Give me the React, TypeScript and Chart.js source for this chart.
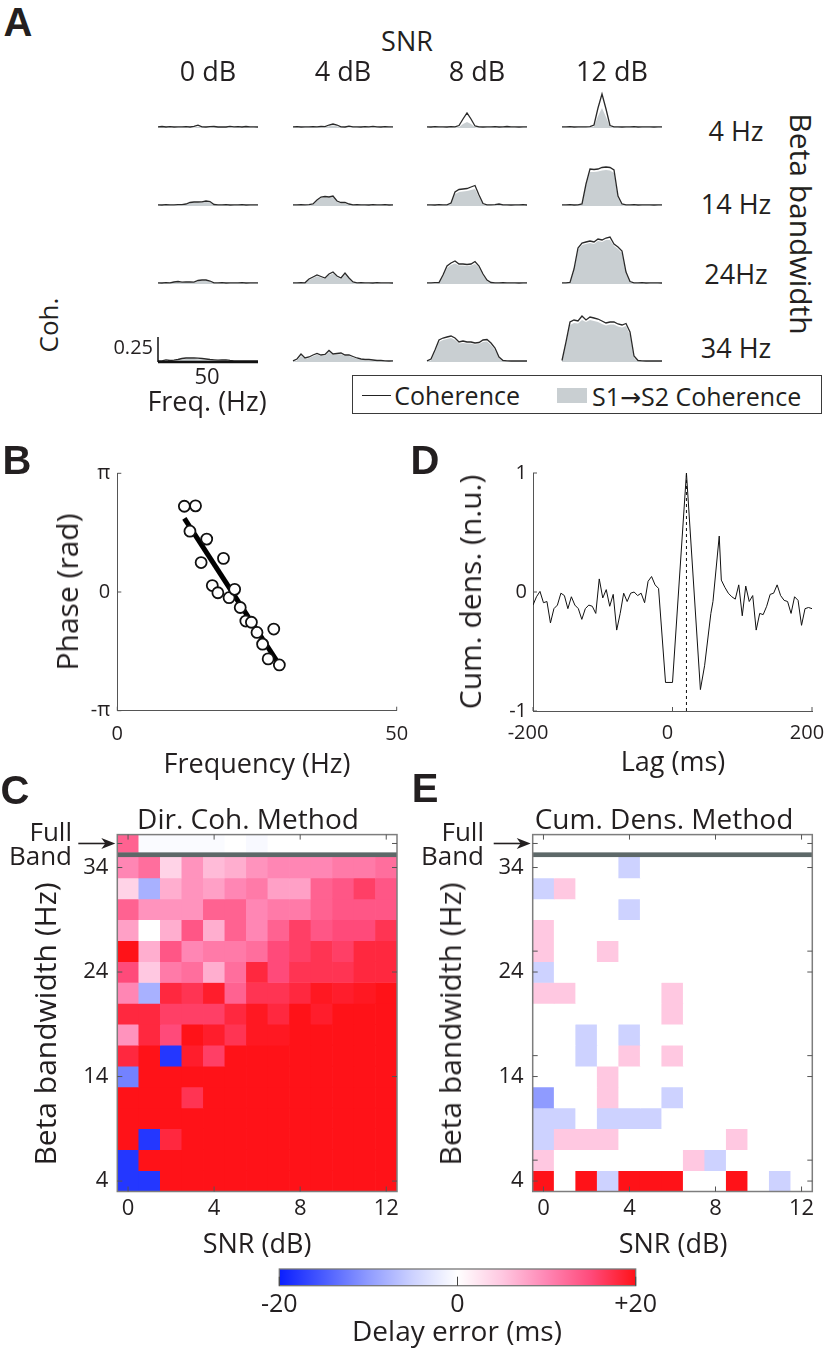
import React, { useEffect, useRef } from 'react';
import { Chart, registerables } from 'chart.js';

Chart.register(...registerables);

const FONT = "'Open Sans', 'Noto Sans', 'DejaVu Sans', sans-serif";
const BOLD_FONT = "'Liberation Sans', Arial, sans-serif";
const INK = '#231f20';
Chart.defaults.font.family = FONT;
Chart.defaults.color = INK;

// ================= DATA =================
// ---- Panel A: coherence spectra (x = frequency, Hz) ----
const FREQ_HZ = [0, 2, 4, 6, 8, 10, 12, 14, 16, 18, 20, 22, 24, 26, 28, 30, 32, 34, 36, 38, 40, 42, 44, 46, 48, 50];
const SNR_COLUMNS = ['0 dB', '4 dB', '8 dB', '12 dB'];
const BANDWIDTH_ROWS = ['4 Hz', '14 Hz', '24Hz', '34 Hz'];

// coherence (line) per SNR column: 0, 4, 8, 12 dB
const COH_4HZ = [
  [0.012, 0.015, 0.010, 0.013, 0.010, 0.012, 0.011, 0.014, 0.010, 0.016, 0.028, 0.012, 0.010, 0.013, 0.015, 0.010, 0.012, 0.010, 0.016, 0.011, 0.013, 0.010, 0.015, 0.011, 0.012, 0.010],
  [0.012, 0.014, 0.010, 0.012, 0.011, 0.013, 0.012, 0.015, 0.013, 0.030, 0.040, 0.030, 0.012, 0.010, 0.018, 0.011, 0.012, 0.010, 0.014, 0.011, 0.016, 0.012, 0.010, 0.014, 0.011, 0.012],
  [0.012, 0.010, 0.013, 0.011, 0.012, 0.010, 0.013, 0.012, 0.025, 0.090, 0.150, 0.090, 0.020, 0.012, 0.010, 0.012, 0.011, 0.013, 0.010, 0.012, 0.015, 0.011, 0.012, 0.010, 0.012, 0.011],
  [0.012, 0.011, 0.013, 0.010, 0.012, 0.011, 0.012, 0.013, 0.030, 0.200, 0.340, 0.190, 0.025, 0.012, 0.011, 0.010, 0.012, 0.011, 0.013, 0.010, 0.012, 0.011, 0.012, 0.010, 0.011, 0.012],
];
// directed S1->S2 coherence (grey area)
const DIR_4HZ = [
  [0.004, 0.005, 0.004, 0.004, 0.004, 0.004, 0.004, 0.005, 0.004, 0.006, 0.012, 0.005, 0.004, 0.004, 0.005, 0.004, 0.004, 0.004, 0.005, 0.004, 0.004, 0.004, 0.005, 0.004, 0.004, 0.004],
  [0.004, 0.005, 0.004, 0.004, 0.004, 0.005, 0.004, 0.005, 0.005, 0.018, 0.026, 0.018, 0.004, 0.004, 0.006, 0.004, 0.004, 0.004, 0.005, 0.004, 0.005, 0.004, 0.004, 0.005, 0.004, 0.004],
  [0.004, 0.004, 0.005, 0.004, 0.004, 0.004, 0.005, 0.004, 0.010, 0.040, 0.060, 0.040, 0.008, 0.004, 0.004, 0.004, 0.004, 0.005, 0.004, 0.004, 0.005, 0.004, 0.004, 0.004, 0.004, 0.004],
  [0.004, 0.004, 0.005, 0.004, 0.004, 0.004, 0.004, 0.005, 0.015, 0.120, 0.200, 0.110, 0.010, 0.004, 0.004, 0.004, 0.004, 0.004, 0.005, 0.004, 0.004, 0.004, 0.004, 0.004, 0.004, 0.004],
];
const COH_14HZ = [
  [0.012, 0.010, 0.013, 0.011, 0.012, 0.014, 0.013, 0.020, 0.035, 0.040, 0.040, 0.042, 0.050, 0.045, 0.015, 0.012, 0.011, 0.013, 0.010, 0.012, 0.011, 0.013, 0.010, 0.012, 0.011, 0.012],
  [0.012, 0.011, 0.013, 0.012, 0.014, 0.020, 0.060, 0.090, 0.095, 0.090, 0.100, 0.050, 0.035, 0.035, 0.020, 0.012, 0.013, 0.011, 0.012, 0.010, 0.013, 0.012, 0.011, 0.013, 0.010, 0.012],
  [0.012, 0.011, 0.010, 0.013, 0.012, 0.011, 0.030, 0.140, 0.165, 0.170, 0.175, 0.190, 0.205, 0.110, 0.025, 0.012, 0.011, 0.013, 0.020, 0.012, 0.011, 0.010, 0.012, 0.011, 0.013, 0.010],
  [0.012, 0.011, 0.013, 0.010, 0.012, 0.020, 0.220, 0.370, 0.365, 0.370, 0.385, 0.390, 0.385, 0.360, 0.100, 0.020, 0.012, 0.011, 0.013, 0.010, 0.012, 0.011, 0.012, 0.010, 0.011, 0.012],
];
const DIR_14HZ = [
  [0.004, 0.004, 0.005, 0.004, 0.004, 0.005, 0.005, 0.012, 0.028, 0.032, 0.033, 0.035, 0.040, 0.036, 0.008, 0.004, 0.004, 0.005, 0.004, 0.004, 0.004, 0.005, 0.004, 0.004, 0.004, 0.004],
  [0.004, 0.004, 0.005, 0.004, 0.005, 0.012, 0.050, 0.080, 0.085, 0.082, 0.090, 0.040, 0.025, 0.025, 0.010, 0.004, 0.005, 0.004, 0.004, 0.004, 0.005, 0.004, 0.004, 0.005, 0.004, 0.004],
  [0.004, 0.004, 0.004, 0.005, 0.004, 0.004, 0.020, 0.120, 0.140, 0.145, 0.150, 0.160, 0.170, 0.090, 0.015, 0.004, 0.004, 0.005, 0.008, 0.004, 0.004, 0.004, 0.004, 0.004, 0.005, 0.004],
  [0.004, 0.004, 0.005, 0.004, 0.004, 0.012, 0.200, 0.340, 0.340, 0.345, 0.355, 0.360, 0.355, 0.330, 0.080, 0.010, 0.004, 0.004, 0.005, 0.004, 0.004, 0.004, 0.004, 0.004, 0.004, 0.004],
];
const COH_24HZ = [
  [0.012, 0.010, 0.013, 0.012, 0.020, 0.025, 0.018, 0.020, 0.022, 0.018, 0.035, 0.040, 0.040, 0.030, 0.012, 0.011, 0.013, 0.010, 0.012, 0.011, 0.012, 0.013, 0.010, 0.012, 0.011, 0.012],
  [0.012, 0.011, 0.013, 0.012, 0.050, 0.070, 0.090, 0.075, 0.060, 0.100, 0.120, 0.080, 0.060, 0.110, 0.060, 0.020, 0.012, 0.013, 0.011, 0.012, 0.010, 0.013, 0.012, 0.011, 0.012, 0.010],
  [0.012, 0.011, 0.013, 0.015, 0.090, 0.180, 0.210, 0.230, 0.200, 0.200, 0.195, 0.200, 0.225, 0.180, 0.100, 0.040, 0.015, 0.012, 0.011, 0.013, 0.012, 0.012, 0.011, 0.010, 0.012, 0.011],
  [0.012, 0.011, 0.015, 0.150, 0.360, 0.410, 0.420, 0.430, 0.420, 0.450, 0.440, 0.460, 0.470, 0.400, 0.370, 0.330, 0.120, 0.025, 0.012, 0.011, 0.013, 0.010, 0.012, 0.011, 0.012, 0.010],
];
const DIR_24HZ = [
  [0.004, 0.004, 0.005, 0.006, 0.014, 0.018, 0.012, 0.014, 0.016, 0.012, 0.028, 0.032, 0.032, 0.022, 0.006, 0.004, 0.005, 0.004, 0.004, 0.004, 0.004, 0.005, 0.004, 0.004, 0.004, 0.004],
  [0.004, 0.004, 0.005, 0.006, 0.040, 0.060, 0.078, 0.065, 0.050, 0.088, 0.105, 0.070, 0.050, 0.095, 0.050, 0.012, 0.005, 0.005, 0.004, 0.004, 0.004, 0.005, 0.004, 0.004, 0.004, 0.004],
  [0.004, 0.004, 0.005, 0.008, 0.075, 0.160, 0.190, 0.205, 0.185, 0.185, 0.180, 0.185, 0.200, 0.165, 0.085, 0.030, 0.008, 0.004, 0.004, 0.005, 0.004, 0.004, 0.004, 0.004, 0.004, 0.004],
  [0.004, 0.004, 0.008, 0.130, 0.340, 0.390, 0.400, 0.410, 0.400, 0.430, 0.420, 0.440, 0.440, 0.380, 0.350, 0.310, 0.100, 0.015, 0.005, 0.004, 0.005, 0.004, 0.004, 0.004, 0.004, 0.004],
];
const COH_34HZ = [
  [0.010, 0.012, 0.022, 0.015, 0.018, 0.025, 0.035, 0.040, 0.042, 0.040, 0.038, 0.035, 0.030, 0.025, 0.022, 0.018, 0.020, 0.022, 0.016, 0.012, 0.010, 0.012, 0.010, 0.011, 0.010, 0.012],
  [0.012, 0.030, 0.080, 0.040, 0.050, 0.070, 0.085, 0.070, 0.075, 0.115, 0.080, 0.085, 0.090, 0.070, 0.070, 0.055, 0.040, 0.030, 0.025, 0.025, 0.020, 0.015, 0.015, 0.012, 0.010, 0.012],
  [0.012, 0.030, 0.120, 0.220, 0.240, 0.250, 0.260, 0.240, 0.200, 0.210, 0.200, 0.200, 0.190, 0.195, 0.220, 0.225, 0.190, 0.140, 0.050, 0.015, 0.012, 0.010, 0.012, 0.010, 0.011, 0.010],
  [0.015, 0.200, 0.400, 0.420, 0.410, 0.460, 0.420, 0.450, 0.440, 0.430, 0.410, 0.390, 0.400, 0.400, 0.380, 0.370, 0.385, 0.300, 0.060, 0.015, 0.012, 0.010, 0.012, 0.010, 0.012, 0.010],
];
const DIR_34HZ = [
  [0.004, 0.005, 0.012, 0.008, 0.010, 0.016, 0.025, 0.030, 0.032, 0.030, 0.028, 0.025, 0.020, 0.016, 0.014, 0.010, 0.012, 0.014, 0.008, 0.005, 0.004, 0.004, 0.004, 0.004, 0.004, 0.004],
  [0.004, 0.015, 0.060, 0.030, 0.040, 0.058, 0.072, 0.060, 0.064, 0.100, 0.070, 0.074, 0.078, 0.060, 0.060, 0.045, 0.032, 0.022, 0.016, 0.016, 0.010, 0.006, 0.006, 0.005, 0.004, 0.004],
  [0.004, 0.015, 0.100, 0.200, 0.220, 0.230, 0.240, 0.220, 0.185, 0.190, 0.185, 0.185, 0.175, 0.180, 0.200, 0.205, 0.170, 0.120, 0.035, 0.006, 0.004, 0.004, 0.004, 0.004, 0.004, 0.004],
  [0.006, 0.170, 0.370, 0.390, 0.385, 0.420, 0.400, 0.420, 0.410, 0.400, 0.380, 0.365, 0.375, 0.375, 0.355, 0.345, 0.360, 0.270, 0.040, 0.006, 0.004, 0.004, 0.004, 0.004, 0.004, 0.004],
];
const SCALE_BAR_COH = 0.25;
const SCALE_BAR_HZ = 50;

// ---- Panel B: phase vs frequency ----
const PHASE_FREQ_HZ = [12, 13, 14, 15, 16, 17, 18, 19, 20, 21, 22, 23, 24, 25, 26, 27, 28, 29];
const PHASE_RAD = [2.27, 1.61, 2.28, 0.78, 1.40, 0.17, -0.02, 0.89, -0.15, 0.07, -0.41, -0.77, -0.80, -1.07, -1.38, -1.77, -0.98, -1.93];
const FIT_FREQ_HZ = [12, 29];
const FIT_PHASE_RAD = [1.95, -1.93];

// ---- Panel D: cumulative density vs lag ----
const LAG_MS = [-200, -195, -190, -185, -180, -175, -170, -165, -160, -155, -150, -145, -140, -135, -130, -125, -120, -115, -110, -105, -100, -95, -90, -85, -80, -75, -70, -65, -60, -55, -50, -45, -40, -35, -30, -25, -20, -10, 0, 20, 40, 46, 55, 58, 67, 70, 75, 80, 85, 90, 95, 100, 105, 110, 115, 120, 125, 130, 135, 140, 145, 150, 155, 160, 165, 170, 175, 180, 185, 190, 195, 200];
const CUM_DENS = [-0.11, -0.04, 0.005, -0.09, -0.08, -0.26, -0.14, -0.11, -0.01, -0.03, -0.14, -0.04, -0.11, -0.14, -0.23, -0.14, -0.11, -0.12, -0.18, 0.11, -0.05, 0.02, -0.12, -0.02, -0.32, -0.18, -0.01, -0.08, -0.01, 0.0, -0.03, -0.01, -0.09, 0.09, 0.13, 0.06, 0.03, -0.76, -0.76, 1.0, -0.82, -0.62, -0.18, -0.08, 0.47, 0.1, 0.04, -0.01, -0.04, -0.06, 0.06, -0.2, 0.05, -0.08, -0.03, -0.32, -0.18, -0.19, -0.12, -0.02, -0.01, 0.06, -0.03, -0.07, -0.08, -0.18, -0.04, -0.07, -0.28, -0.14, -0.13, -0.14];
const PEAK_LAG_MS = 20;

// ---- Panels C & E: delay error (ms) ----
const SNR_DB = [0, 1, 2, 3, 4, 5, 6, 7, 8, 9, 10, 11, 12];
const BETA_BW_HZ = [34, 32, 30, 28, 26, 24, 22, 20, 18, 16, 14, 12, 10, 8, 6, 4];
const DIR_COH_FULL = [13, -0.5, -0.5, -0.5, -0.5, 0, -0.7, 0, 0, 0, 0, 0, 0];
const DIR_COH_ERR = [
  [10, 12, 4, 9, 6, 7, 9, 10, 10, 10, 11, 11, 12],
  [4, -8, 7, 9, 8, 10, 11, 8, 8, 13, 14, 16, 14],
  [13, 9, 9, 9, 13, 13, 10, 11, 11, 13, 14, 14, 14],
  [8, 0, 7, 14, 7, 13, 10, 13, 16, 14, 15, 15, 17],
  [20, 7, 14, 10, 11, 11, 12, 15, 16, 17, 16, 18, 18],
  [15, 5, 11, 12, 7, 12, 18, 15, 17, 17, 17, 18, 18],
  [10, -8, 18, 17, 19, 13, 17, 17, 18, 19.5, 19, 19.5, 20],
  [18, 18, 16, 16, 16, 18, 19.5, 18, 20, 19, 20, 20, 20],
  [9, 18, 15, 20, 19, 17, 19.5, 19.5, 20, 20, 20, 20, 20],
  [18, 20, -18, 19, 16, 20, 20, 20, 20, 20, 20, 20, 20],
  [-12, 20, 20, 20, 20, 20, 20, 20, 20, 20, 20, 20, 20],
  [20, 20, 20, 17, 20, 20, 20, 20, 20, 20, 20, 20, 20],
  [20, 20, 20, 20, 20, 20, 20, 20, 20, 20, 20, 20, 20],
  [20, -18, 18, 20, 20, 20, 20, 20, 20, 20, 20, 20, 20],
  [-18, 20, 20, 20, 20, 20, 20, 20, 20, 20, 20, 20, 20],
  [-18, -18, 20, 20, 20, 20, 20, 20, 20, 20, 20, 20, 20],
];
const CUM_DENS_FULL = [0, 0, 0, 0, 0, 0, 0, 0, 0, 0, 0, 0, 0];
const CUM_DENS_ERR = [
  [0, 0, 0, 0, -5, 0, 0, 0, 0, 0, 0, 0, 0],
  [-5, 5, 0, 0, 0, 0, 0, 0, 0, 0, 0, 0, 0],
  [0, 0, 0, 0, -5, 0, 0, 0, 0, 0, 0, 0, 0],
  [5, 0, 0, 0, 0, 0, 0, 0, 0, 0, 0, 0, 0],
  [5, 0, 0, 5, 0, 0, 0, 0, 0, 0, 0, 0, 0],
  [-5, 0, 0, 0, 0, 0, 0, 0, 0, 0, 0, 0, 0],
  [5, 5, 0, 0, 0, 0, 5, 0, 0, 0, 0, 0, 0],
  [0, 0, 0, 0, 0, 0, 5, 0, 0, 0, 0, 0, 0],
  [0, 0, -5, 0, -5, 0, 0, 0, 0, 0, 0, 0, 0],
  [0, 0, -5, 0, 5, 0, 5, 0, 0, 0, 0, 0, 0],
  [0, 0, 0, 5, 0, 0, 0, 0, 0, 0, 0, 0, 0],
  [-10, 0, 0, 5, 0, 0, -5, 0, 0, 0, 0, 0, 0],
  [-5, -5, 0, -5, -5, -5, 0, 0, 0, 0, 0, 0, 0],
  [-5, 5, 5, 5, 0, 0, 0, 0, 0, 5, 0, 0, 0],
  [5, 0, 0, 0, 0, 0, 0, 5, -5, 0, 0, 0, 0],
  [20, 0, 20, -5, 20, 20, 20, 0, 0, 20, 0, -5, 0],
];
const C_Y_TICKS = [4, 14, 24, 34];
const C_Y_MARKS = [4, 14, 24, 34];
const E_Y_MARKS = [4, 6, 14, 16, 24, 26, 34];
const X_TICK_IDX = [0, 4, 8, 12];

// ---- colour scale ----
const CBAR_TICKS = [-20, 0, 20];
const CMAP_VALUES = [-20, -15, -10, -5, 0, 5, 10, 15, 20];
const CMAP_RGB = [
  [10, 30, 255], [74, 92, 255], [143, 155, 255], [205, 210, 255], [255, 255, 255],
  [255, 200, 225], [255, 134, 180], [255, 74, 122], [255, 18, 24],
];

// ================= HELPERS =================
function errColor(v: number) {
  const t = Math.max(CMAP_VALUES[0], Math.min(CMAP_VALUES[CMAP_VALUES.length - 1], v));
  let i = 0;
  while (i < CMAP_VALUES.length - 2 && t > CMAP_VALUES[i + 1]) i++;
  const f = (t - CMAP_VALUES[i]) / (CMAP_VALUES[i + 1] - CMAP_VALUES[i]);
  const a = CMAP_RGB[i], b = CMAP_RGB[i + 1];
  const c = a.map((x, k) => Math.round(x + (b[k] - x) * f));
  return `rgb(${c[0]},${c[1]},${c[2]})`;
}

const inwardTicks = {
  id: 'inwardTicks',
  afterDraw(chart: any, _a: any, opts: any) {
    if (!opts || !opts.enabled) return;
    const { ctx, chartArea: a } = chart;
    const xs = chart.scales.x, ys = chart.scales.y;
    const len = opts.len || 4;
    ctx.save();
    ctx.strokeStyle = opts.color || '#555';
    ctx.lineWidth = 1;
    const seg = (x1: number, y1: number, x2: number, y2: number) => {
      ctx.beginPath(); ctx.moveTo(x1, y1); ctx.lineTo(x2, y2); ctx.stroke();
    };
    (opts.xValues || []).forEach((v: number) => {
      const px = xs.getPixelForValue(v);
      seg(px, a.bottom, px, a.bottom - len);
      if (opts.box) seg(px, a.top, px, a.top + len);
    });
    (opts.yValues || []).forEach((v: number) => {
      const py = ys.getPixelForValue(v);
      seg(a.left, py, a.left + len, py);
      if (opts.box) seg(a.right, py, a.right - len, py);
    });
    ctx.restore();
  },
};

const heatDeco = {
  id: 'heatDeco',
  afterDatasetsDraw(chart: any, _a: any, opts: any) {
    const { ctx, chartArea: a } = chart;
    const ys = chart.scales.y;
    ctx.save();
    const s1 = ys.getPixelForValue(opts.sepLo), s2 = ys.getPixelForValue(opts.sepHi);
    ctx.fillStyle = '#5d6868';
    ctx.fillRect(a.left, s2, a.right - a.left, s1 - s2);
    ctx.strokeStyle = '#7d7d7d';
    ctx.lineWidth = 1.5;
    ctx.strokeRect(a.left, a.top, a.right - a.left, a.bottom - a.top);
    const ay = ys.getPixelForValue(opts.arrowAt);
    ctx.strokeStyle = INK; ctx.fillStyle = INK; ctx.lineWidth = 1.6;
    ctx.beginPath(); ctx.moveTo(a.left - 39, ay); ctx.lineTo(a.left - 10, ay); ctx.stroke();
    ctx.beginPath();
    ctx.moveTo(a.left - 2, ay); ctx.lineTo(a.left - 16, ay - 5.5); ctx.lineTo(a.left - 12, ay); ctx.lineTo(a.left - 16, ay + 5.5);
    ctx.closePath(); ctx.fill();
    ctx.restore();
  },
};

const colorBar = {
  id: 'colorBar',
  beforeDatasetsDraw(chart: any) {
    const { ctx, chartArea: a } = chart;
    const xs = chart.scales.x;
    const g = ctx.createLinearGradient(a.left, 0, a.right, 0);
    CMAP_VALUES.forEach((v, i) => {
      const f = (xs.getPixelForValue(v) - a.left) / (a.right - a.left);
      g.addColorStop(Math.max(0, Math.min(1, f)), `rgb(${CMAP_RGB[i].join(',')})`);
    });
    ctx.save();
    ctx.fillStyle = g;
    ctx.fillRect(a.left, a.top, a.right - a.left, a.bottom - a.top);
    ctx.strokeStyle = '#777'; ctx.lineWidth = 1.3;
    ctx.strokeRect(a.left, a.top, a.right - a.left, a.bottom - a.top);
    ctx.strokeStyle = '#444'; ctx.lineWidth = 1;
    CBAR_TICKS.forEach((v) => {
      const px = xs.getPixelForValue(v);
      ctx.beginPath(); ctx.moveTo(px, a.bottom); ctx.lineTo(px, a.bottom - 9); ctx.stroke();
    });
    ctx.restore();
  },
};

const baseOpts = {
  animation: false,
  responsive: false,
  events: [],
};

function fixAxis(size: number, horizontal: boolean) {
  return (s: any) => {
    if (horizontal) s.height = size; else s.width = size;
    s.paddingLeft = 0; s.paddingRight = 0; s.paddingTop = 0; s.paddingBottom = 0;
  };
}

function spectrumConfig(coh: number[], dir: number[], withScale: boolean) {
  const datasets: any[] = [
    { data: FREQ_HZ.map((f, i) => ({ x: f, y: coh[i] })), borderColor: '#2a2a2a', borderWidth: 1.3, pointRadius: 0, fill: false, tension: 0, order: 0, clip: false },
    { data: FREQ_HZ.map((f, i) => ({ x: f, y: dir[i] })), borderWidth: 0, borderColor: 'rgba(0,0,0,0)', backgroundColor: '#c9cfd2', fill: 'origin', pointRadius: 0, tension: 0, order: 1 },
  ];
  if (withScale) {
    datasets.push({ data: [{ x: 0, y: SCALE_BAR_COH }, { x: 0, y: 0 }], borderColor: '#111', borderWidth: 1.5, pointRadius: 0, order: -1, clip: false });
    datasets.push({ data: [{ x: 0, y: 0 }, { x: SCALE_BAR_HZ, y: 0 }], borderColor: '#111', borderWidth: 2.6, pointRadius: 0, order: -1, clip: false });
  }
  return {
    type: 'line',
    data: { datasets },
    options: {
      ...baseOpts,
      layout: { padding: { left: 5, right: 5, top: 0, bottom: 0 } },
      plugins: { legend: { display: false }, tooltip: { enabled: false } },
      scales: {
        x: { type: 'linear', min: 0, max: 50, display: false },
        y: { type: 'linear', min: -0.03, max: 0.57, display: false },
      },
    },
  };
}

function phaseConfig() {
  return {
    type: 'scatter',
    data: {
      datasets: [
        { type: 'line', data: FIT_FREQ_HZ.map((f, i) => ({ x: f, y: FIT_PHASE_RAD[i] })), borderColor: '#000', borderWidth: 5, pointRadius: 0, order: 1 },
        { data: PHASE_FREQ_HZ.map((f, i) => ({ x: f, y: PHASE_RAD[i] })), pointRadius: 5.5, pointBorderWidth: 1.8, pointBackgroundColor: '#fff', pointBorderColor: '#111', order: 0 },
      ],
    },
    options: {
      ...baseOpts,
      layout: { padding: { left: 0, right: 23.3, top: 33.3, bottom: 0 } },
      plugins: {
        legend: { display: false }, tooltip: { enabled: false },
        inwardTicks: { enabled: true, xValues: [0, 50], yValues: [-Math.PI, 0, Math.PI], len: 4, color: '#555' },
      },
      scales: {
        x: {
          type: 'linear', min: 0, max: 50,
          afterBuildTicks: (s: any) => { s.ticks = [0, 50].map((v) => ({ value: v })); },
          grid: { display: false, drawTicks: false }, border: { display: true, color: '#555', width: 1 },
          ticks: { padding: 12, font: { size: 20 }, color: INK },
          afterFit: fixAxis(49.3, true),
        },
        y: {
          type: 'linear', min: -Math.PI, max: Math.PI,
          afterBuildTicks: (s: any) => { s.ticks = [-Math.PI, 0, Math.PI].map((v) => ({ value: v })); },
          grid: { display: false, drawTicks: false }, border: { display: true, color: '#555', width: 1 },
          ticks: { padding: 7, font: { size: 20 }, color: INK, callback: (v: number) => (v > 0.1 ? 'π' : v < -0.1 ? '-π' : '0') },
          afterFit: fixAxis(117.3, false),
        },
      },
    },
    plugins: [inwardTicks],
  };
}

function lagConfig() {
  return {
    type: 'line',
    data: {
      datasets: [
        { data: LAG_MS.map((l, i) => ({ x: l, y: CUM_DENS[i] })), borderColor: '#111', borderWidth: 1, pointRadius: 0, tension: 0 },
        { data: [{ x: PEAK_LAG_MS, y: -1 }, { x: PEAK_LAG_MS, y: 1 }], borderColor: '#111', borderWidth: 1, borderDash: [3, 3], pointRadius: 0 },
      ],
    },
    options: {
      ...baseOpts,
      layout: { padding: { left: 0, right: 14, top: 33, bottom: 0 } },
      plugins: {
        legend: { display: false }, tooltip: { enabled: false },
        inwardTicks: { enabled: true, xValues: [-200, 0, 200], yValues: [-1, 0, 1], len: 4, color: '#555' },
      },
      scales: {
        x: {
          type: 'linear', min: -200, max: 200,
          afterBuildTicks: (s: any) => { s.ticks = [-200, 0, 200].map((v) => ({ value: v })); },
          grid: { display: false, drawTicks: false }, border: { display: true, color: '#555', width: 1 },
          ticks: { padding: 10, labelOffset: -5, font: { size: 20 }, color: INK },
          afterFit: fixAxis(49, true),
        },
        y: {
          type: 'linear', min: -1, max: 1,
          afterBuildTicks: (s: any) => { s.ticks = [-1, 0, 1].map((v) => ({ value: v })); },
          grid: { display: false, drawTicks: false }, border: { display: true, color: '#555', width: 1 },
          ticks: { padding: 6, font: { size: 20 }, color: INK },
          afterFit: fixAxis(113, false),
        },
      },
    },
    plugins: [inwardTicks],
  };
}

const FULL_BAND_LO = 35.45;
const FULL_BAND_HI = 37.15;
const FULL_BAND_MID = 36.3;

function heatConfig(matrix: number[][], full: number[], yMarks: number[], yAxisWidth: number, padRight: number) {
  const common = { borderWidth: 0, grouped: false, barPercentage: 1, categoryPercentage: 1 };
  const datasets: any[] = BETA_BW_HZ.map((bw, r) => ({
    ...common,
    data: matrix[r].map(() => [bw - 1, bw + 1]),
    backgroundColor: matrix[r].map(errColor),
  }));
  datasets.push({ ...common, data: full.map(() => [FULL_BAND_LO, FULL_BAND_HI]), backgroundColor: full.map(errColor) });
  return {
    type: 'bar',
    data: { labels: SNR_DB.map(String), datasets },
    options: {
      ...baseOpts,
      layout: { padding: { left: 0, right: padRight, top: 14.6, bottom: 0 } },
      plugins: {
        legend: { display: false }, tooltip: { enabled: false },
        heatDeco: { sepLo: 35, sepHi: FULL_BAND_LO, arrowAt: FULL_BAND_MID },
        inwardTicks: { enabled: true, box: true, xValues: X_TICK_IDX, yValues: [...yMarks, FULL_BAND_MID], len: 5, color: '#555' },
      },
      scales: {
        x: {
          type: 'category',
          grid: { display: false, drawTicks: false }, border: { display: false },
          ticks: { autoSkip: false, maxRotation: 0, padding: 4, font: { size: 22 }, color: INK, callback: (_v: any, i: number) => (X_TICK_IDX.includes(i) ? String(SNR_DB[i]) : '') },
          afterFit: fixAxis(28.5, true),
        },
        y: {
          type: 'linear', min: 3, max: FULL_BAND_HI,
          afterBuildTicks: (s: any) => { s.ticks = C_Y_TICKS.map((v) => ({ value: v })); },
          grid: { display: false, drawTicks: false }, border: { display: false },
          ticks: { padding: 9, font: { size: 22 }, color: INK },
          afterFit: fixAxis(yAxisWidth, false),
        },
      },
    },
    plugins: [heatDeco, inwardTicks],
  };
}

function colorBarConfig() {
  return {
    type: 'scatter',
    data: { datasets: [] },
    options: {
      ...baseOpts,
      layout: { padding: { left: 19.3, right: 24.3, top: 14, bottom: 0 } },
      plugins: { legend: { display: false }, tooltip: { enabled: false } },
      scales: {
        x: {
          type: 'linear', min: CBAR_TICKS[0], max: CBAR_TICKS[CBAR_TICKS.length - 1],
          afterBuildTicks: (s: any) => { s.ticks = CBAR_TICKS.map((v) => ({ value: v })); },
          grid: { display: false, drawTicks: false }, border: { display: false },
          ticks: { padding: 4, font: { size: 25 }, color: INK, callback: (v: number) => (v > 0 ? `+${v}` : `${v}`) },
          afterFit: fixAxis(29.3, true),
        },
        y: { display: false, min: 0, max: 1 },
      },
    },
    plugins: [colorBar],
  };
}

// ================= COMPONENTS =================
function ChartCanvas({ left, top, width, height, make }: any) {
  const ref = useRef<HTMLCanvasElement>(null);
  useEffect(() => {
    const chart = new Chart(ref.current as HTMLCanvasElement, make());
    return () => chart.destroy();
  }, []);
  return (
    <canvas ref={ref} width={width} height={height}
      style={{ position: 'absolute', left, top, width, height, display: 'block' }} />
  );
}

type TextSpec = { text: string; x: number; y: number; size?: number; anchor?: 'start' | 'middle' | 'end'; rotate?: number; bold?: boolean };

function Label({ s }: { s: TextSpec }) {
  const tx = s.anchor === 'end' ? '-100%' : s.anchor === 'start' ? '0%' : '-50%';
  return (
    <div style={{
      position: 'absolute', left: s.x, top: s.y, whiteSpace: 'nowrap', lineHeight: 1,
      transform: `translate(${tx},-50%) rotate(${s.rotate || 0}deg)`,
      fontFamily: s.bold ? BOLD_FONT : FONT, fontWeight: s.bold ? 700 : 400,
      fontSize: s.size || 27, color: INK,
    }}>{s.text}</div>
  );
}

const COL_X = [158, 293, 427, 562];
const ZERO_Y = [128, 206, 284, 362];
const ROW_LABEL_Y = [130, 203, 273, 347];
const ROW_SETS = [
  { coh: COH_4HZ, dir: DIR_4HZ },
  { coh: COH_14HZ, dir: DIR_14HZ },
  { coh: COH_24HZ, dir: DIR_24HZ },
  { coh: COH_34HZ, dir: DIR_34HZ },
];

const LABELS: TextSpec[] = [
  { text: 'A', x: 18, y: 22, size: 40, bold: true },
  { text: 'SNR', x: 407, y: 40 },
  ...SNR_COLUMNS.map((t, i) => ({ text: t, x: COL_X[i] + 50, y: 70 })),
  ...BANDWIDTH_ROWS.map((t, i) => ({ text: t, x: 736, y: ROW_LABEL_Y[i] })),
  { text: 'Beta bandwidth', x: 801, y: 224, size: 30, rotate: 90 },
  { text: 'Coh.', x: 48, y: 325, size: 26, rotate: -90 },
  { text: '0.25', x: 153, y: 347, size: 20, anchor: 'end' },
  { text: '50', x: 207, y: 375, size: 22 },
  { text: 'Freq. (Hz)', x: 207, y: 400 },
  { text: 'Coherence', x: 520, y: 395, size: 25, anchor: 'end' },
  { text: 'S1→S2 Coherence', x: 592, y: 396, size: 25, anchor: 'start' },
  { text: 'B', x: 17, y: 460, size: 40, bold: true },
  { text: 'Phase (rad)', x: 67, y: 592, size: 30, rotate: -90 },
  { text: 'Frequency (Hz)', x: 257, y: 762 },
  { text: 'D', x: 425, y: 460, size: 40, bold: true },
  { text: 'Cum. dens. (n.u.)', x: 470, y: 592, size: 30, rotate: -90 },
  { text: 'Lag (ms)', x: 673, y: 760 },
  { text: 'C', x: 15, y: 790, size: 40, bold: true },
  { text: 'Dir. Coh. Method', x: 248, y: 818, size: 28 },
  { text: 'Full', x: 72, y: 831, size: 26, anchor: 'end' },
  { text: 'Band', x: 72, y: 855, size: 26, anchor: 'end' },
  { text: 'Beta bandwidth (Hz)', x: 45, y: 1024, size: 30, rotate: -90 },
  { text: 'SNR (dB)', x: 257, y: 1242 },
  { text: 'E', x: 425, y: 788, size: 40, bold: true },
  { text: 'Cum. Dens. Method', x: 664, y: 818, size: 28 },
  { text: 'Full', x: 484, y: 831, size: 26, anchor: 'end' },
  { text: 'Band', x: 484, y: 855, size: 26, anchor: 'end' },
  { text: 'Beta bandwidth (Hz)', x: 450, y: 1024, size: 30, rotate: -90 },
  { text: 'SNR (dB)', x: 673, y: 1242 },
  { text: 'Delay error (ms)', x: 457, y: 1330, size: 28 },
];

export default function App() {
  return (
    <div style={{ position: 'absolute', left: 0, top: 0, width: 826, height: 1349, background: '#fff', overflow: 'hidden' }}>
      {ROW_SETS.map((row, r) =>
        SNR_COLUMNS.map((_, c) => (
          <ChartCanvas key={`s${r}${c}`} left={COL_X[c] - 5} top={ZERO_Y[r] - 57} width={110} height={60}
            make={() => spectrumConfig(row.coh[c], row.dir[c], r === 3 && c === 0)} />
        ))
      )}
      {/* legend of panel A */}
      <div style={{ position: 'absolute', left: 352, top: 375, width: 470, height: 39, border: '1.4px solid #3a3a3a', boxSizing: 'border-box' }} />
      <div style={{ position: 'absolute', left: 362, top: 395, width: 29, height: 0, borderTop: '1.5px solid #222' }} />
      <div style={{ position: 'absolute', left: 557, top: 388, width: 30, height: 15, background: '#c9cfd2' }} />

      <ChartCanvas left={0} top={440} width={420} height={320} make={phaseConfig} />
      <ChartCanvas left={420} top={440} width={406} height={320} make={lagConfig} />
      <ChartCanvas left={0} top={820} width={410} height={400}
        make={() => heatConfig(DIR_COH_ERR, DIR_COH_FULL, C_Y_MARKS, 117.3, 13)} />
      <ChartCanvas left={415} top={820} width={411} height={400}
        make={() => heatConfig(CUM_DENS_ERR, CUM_DENS_FULL, E_Y_MARKS, 117.7, 13.7)} />
      <ChartCanvas left={260} top={1255} width={400} height={60} make={colorBarConfig} />

      {LABELS.map((s, i) => <Label key={i} s={s} />)}
    </div>
  );
}
